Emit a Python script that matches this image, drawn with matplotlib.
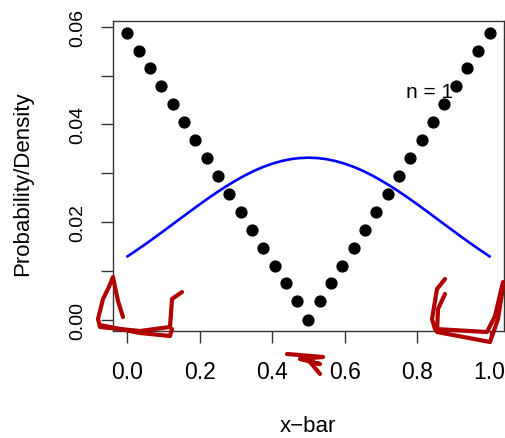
import numpy as np
import matplotlib
matplotlib.use("Agg")
import matplotlib.pyplot as plt

plt.rcParams['font.family'] = ['Liberation Sans', 'DejaVu Sans']

# probability of each sample mean (33 possible values between 0 and 1)
x_bar = np.arange(33) / 32
prob = [0.0588, 0.0551, 0.0515, 0.0478, 0.0441, 0.0404, 0.0368, 0.0331,
        0.0294, 0.0257, 0.0221, 0.0184, 0.0147, 0.0110, 0.0074, 0.0037,
        0.0000,
        0.0037, 0.0074, 0.0110, 0.0147, 0.0184, 0.0221, 0.0257, 0.0294,
        0.0331, 0.0368, 0.0404, 0.0441, 0.0478, 0.0515, 0.0551, 0.0588]

# normal approximation, scaled to the spacing of the points
curve_x = np.arange(41) / 40
curve_y = [0.01295, 0.01419, 0.01548, 0.01681, 0.01817, 0.01954, 0.02092,
           0.02229, 0.02364, 0.02496, 0.02622, 0.02742, 0.02854, 0.02957,
           0.03049, 0.03129, 0.03195, 0.03248, 0.03287, 0.03310, 0.03318,
           0.03310, 0.03287, 0.03248, 0.03195, 0.03129, 0.03049, 0.02957,
           0.02854, 0.02742, 0.02622, 0.02496, 0.02364, 0.02229, 0.02092,
           0.01954, 0.01817, 0.01681, 0.01548, 0.01419, 0.01295]

x_ticks = [0.0, 0.2, 0.4, 0.6, 0.8, 1.0]
x_labels = ['0.0', '0.2', '0.4', '0.6', '0.8', '1.0']
y_ticks = [0.00, 0.01, 0.02, 0.03, 0.04, 0.05, 0.06]
y_labels = ['0.00', '', '0.02', '', '0.04', '', '0.06']

W, H = 506, 439
fig = plt.figure(figsize=(W / 100, H / 100), dpi=100)
ax = fig.add_axes([113 / W, 1 - 332 / H, (504 - 113) / W, (332 - 22) / H])

ax.text(0.834, 0.0468, 'n = 1', fontsize=15, ha='center', va='center', zorder=1)
ax.plot(curve_x, curve_y, color='#0000ff', lw=1.9, zorder=2)
ax.plot(x_bar, prob, 'o', color='black', ms=7.8, mec='black', zorder=3)

ax.set_xlim(-0.04, 1.04)
ax.set_ylim(-0.00235, 0.0612)
ax.set_xticks(x_ticks)
ax.set_xticklabels(x_labels)
ax.set_yticks(y_ticks)
ax.set_yticklabels(y_labels, rotation=90, va='center')
ax.tick_params(length=8.6, width=1, color='#333333')
ax.tick_params(axis='x', labelsize=16.5, pad=12)
ax.tick_params(axis='y', labelsize=14, pad=11)
for s in ax.spines.values():
    s.set_color('#333333')
    s.set_linewidth(1)

fig.text(308 / W, 1 - 427 / H, 'x\u2212bar', fontsize=16, ha='center', va='center')
fig.text(23 / W, 1 - 184 / H, 'Probability/Density', fontsize=16,
         rotation=90, ha='center', va='center')

# red pen marks on top of the figure (pixel coordinates, origin top-left)
pen = dict(color='#b00000', lw=3, solid_capstyle='round', solid_joinstyle='round',
           transform=None, zorder=10, clip_on=False)
strokes = [
    [(123, 318), (118, 302), (113, 278), (108, 290), (103, 300), (98, 320),
     (100, 328), (140, 332), (170, 328), (172, 300), (182, 293)],
    [(100, 326), (140, 334), (170, 337), (172, 330)],
    [(445, 280), (437, 290), (432, 320), (435, 330), (487, 333), (495, 317), (503, 283)],
    [(445, 295), (438, 310), (437, 333), (490, 343), (498, 320), (503, 288)],
    [(287, 355), (323, 358), (300, 360), (320, 365), (310, 363), (320, 375)],
]
for st in strokes:
    px = np.array(st, dtype=float)
    ax.plot(px[:, 0], H - px[:, 1], **pen)

fig.savefig('out.png', dpi=100)
